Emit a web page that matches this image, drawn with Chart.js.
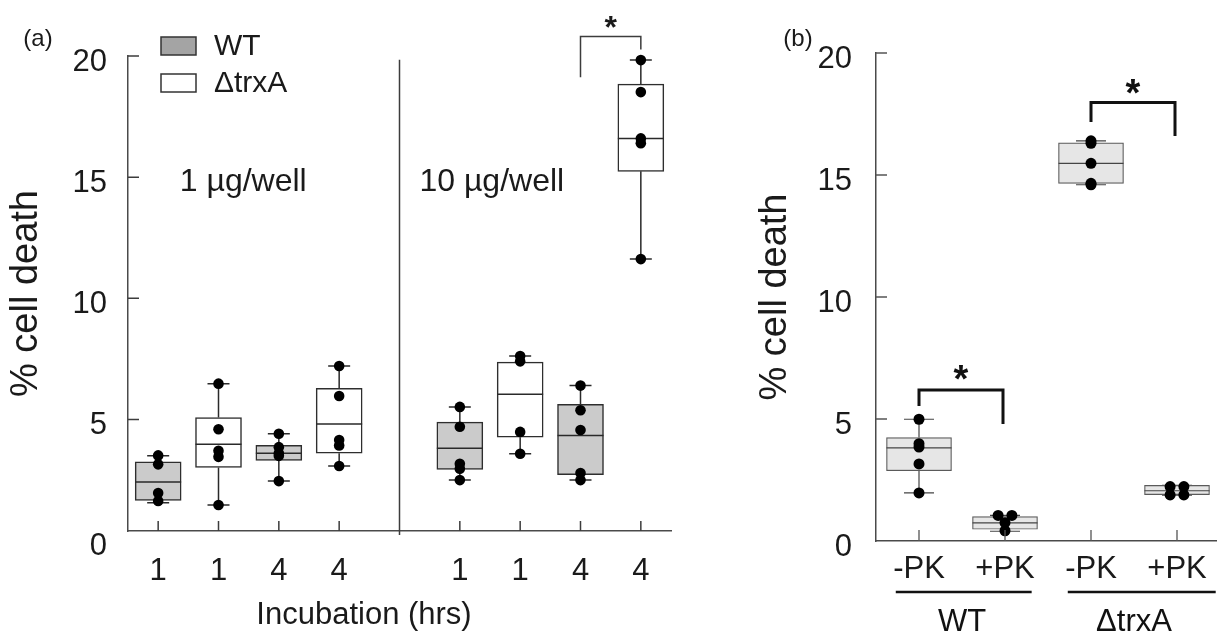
<!DOCTYPE html>
<html>
<head>
<meta charset="utf-8">
<script src="https://cdn.jsdelivr.net/npm/chart.js@4.4.1/dist/chart.umd.min.js"></script>
<style>
  html, body { margin: 0; padding: 0; background: #fff; overflow: hidden; }
  body { width: 1217px; height: 638px; position: relative; }
  .panel { position: absolute; top: 0; height: 638px; }
  #wrapA { left: 0; width: 700px; }
  #wrapB { left: 700px; width: 530px; }
</style>
</head>
<body>
<div class="panel" id="wrapA"><canvas id="chartA"></canvas></div>
<div class="panel" id="wrapB"><canvas id="chartB"></canvas></div>
<script>
// ---- panel (a): incubation time course, two doses ----
const doseNames = ['1 µg/well', '10 µg/well'];
const hoursA = ['1', '1', '4', '4', '1', '1', '4', '4'];
const strainA = ['WT', 'ΔtrxA', 'WT', 'ΔtrxA', 'WT', 'ΔtrxA', 'WT', 'ΔtrxA'];
const doseA = ['1 µg/well', '1 µg/well', '1 µg/well', '1 µg/well',
               '10 µg/well', '10 µg/well', '10 µg/well', '10 µg/well'];
const minA = [1.57, 1.47, 2.46, 3.08, 2.5, 3.59, 2.5, 11.62];
const q1A  = [1.66, 3.02, 3.31, 3.61, 2.94, 4.27, 2.72, 15.24];
const medA = [2.42, 3.98, 3.61, 4.82, 3.81, 6.04, 4.34, 16.6];
const q3A  = [3.25, 5.08, 3.93, 6.29, 4.89, 7.37, 5.63, 18.84];
const maxA = [3.5, 6.48, 4.41, 7.21, 5.52, 7.62, 6.4, 19.83];
const pointsA = [
  [3.52, 3.15, 1.97, 1.64],
  [6.48, 4.6, 3.71, 3.46, 1.47],
  [4.41, 3.86, 3.61, 3.5, 2.46],
  [7.21, 5.97, 4.15, 3.93, 3.08],
  [5.52, 4.7, 3.17, 2.97, 2.5],
  [7.62, 7.4, 4.49, 3.59],
  [6.4, 5.38, 4.57, 2.79, 2.5],
  [19.83, 18.51, 16.6, 16.4, 11.62]
];
const yTicks = [0, 5, 10, 15, 20];

// ---- panel (b): proteinase K treatment ----
const pkB = ['-PK', '+PK', '-PK', '+PK'];
const strainB = ['WT', 'WT', 'ΔtrxA', 'ΔtrxA'];
const minB = [1.97, 0.4, 14.6, 1.88];
const q1B  = [2.88, 0.48, 14.66, 1.9];
const medB = [3.82, 0.74, 15.48, 2.06];
const q3B  = [4.24, 1.0, 16.32, 2.28];
const maxB = [4.99, 1.05, 16.4, 2.28];
const pointsB = [
  [4.99, 3.99, 3.85, 3.16, 1.97],
  [1.05, 1.05, 0.75, 0.42],
  [16.4, 16.3, 15.48, 14.66, 14.6],
  [2.23, 2.23, 1.89, 1.89]
];

const FONT = '"Liberation Sans", Arial, Helvetica, sans-serif';
Chart.defaults.font.family = FONT;
Chart.defaults.color = '#1a1a1a';

// gap slot between the two doses
const slotA = doseA.map((d, i) => i + doseNames.indexOf(d));
const slotB = pkB.map((_, i) => i);

// identical values are spread sideways so they stay visible
function dots(points, slots, step) {
  const out = [];
  points.forEach((grp, g) => {
    grp.forEach((v, k) => {
      const same = grp.filter(p => p === v).length;
      const rank = grp.slice(0, k).filter(p => p === v).length;
      out.push({ x: slots[g] + (rank - (same - 1) / 2) * step, y: v });
    });
  });
  return out;
}

// whiskers, caps and median lines for a box dataset
function boxPlugin(st) {
  return {
    id: 'box' + st.name,
    beforeDatasetsDraw(chart) {
      const { ctx, scales: { x, y } } = chart;
      ctx.save();
      ctx.strokeStyle = st.color;
      ctx.lineWidth = st.width;
      ctx.beginPath();
      st.slots.forEach((s, i) => {
        const px = x.getPixelForValue(s);
        const yMax = y.getPixelForValue(st.max[i]), yMin = y.getPixelForValue(st.min[i]);
        ctx.moveTo(px, y.getPixelForValue(st.q3[i])); ctx.lineTo(px, yMax);
        ctx.moveTo(px, y.getPixelForValue(st.q1[i])); ctx.lineTo(px, yMin);
        ctx.moveTo(px - st.cap / 2, yMax); ctx.lineTo(px + st.cap / 2, yMax);
        ctx.moveTo(px - st.cap / 2, yMin); ctx.lineTo(px + st.cap / 2, yMin);
      });
      ctx.stroke();
      ctx.restore();
    },
    afterDatasetDraw(chart, args) {
      if (chart.data.datasets[args.index].type !== 'bar') return;
      const { ctx, scales: { y } } = chart;
      const bars = chart.getDatasetMeta(args.index).data;
      ctx.save();
      ctx.strokeStyle = st.color;
      ctx.lineWidth = st.width;
      ctx.beginPath();
      st.med.forEach((m, i) => {
        const b = bars[i];
        const py = y.getPixelForValue(m);
        ctx.moveTo(b.x - b.width / 2, py); ctx.lineTo(b.x + b.width / 2, py);
      });
      ctx.stroke();
      ctx.restore();
    }
  };
}

function star(ctx, txt, x, cy, size) {
  ctx.font = 'bold ' + size + 'px ' + FONT;
  ctx.textAlign = 'center';
  ctx.textBaseline = 'alphabetic';
  ctx.fillText(txt, x, cy + size * 0.58);
}

const decorA = {
  id: 'decorA',
  afterDraw(chart) {
    const { ctx, chartArea: ca, scales: { x, y } } = chart;
    ctx.save();
    ctx.strokeStyle = '#3c3c3c';
    ctx.lineWidth = 1.5;
    ctx.beginPath();
    yTicks.filter(v => v > 0).forEach(v => {
      const py = y.getPixelForValue(v);
      ctx.moveTo(ca.left, py); ctx.lineTo(ca.left + 11, py);
    });
    slotA.forEach(s => {
      const px = x.getPixelForValue(s);
      ctx.moveTo(px, ca.bottom); ctx.lineTo(px, ca.bottom - 10);
    });
    const sep = x.getPixelForValue((slotA[3] + slotA[4]) / 2);
    ctx.moveTo(sep, y.getPixelForValue(19.85)); ctx.lineTo(sep, ca.bottom + 4);
    // significance bracket, 10 µg/well 4 h
    const l = x.getPixelForValue(slotA[6]), r = x.getPixelForValue(slotA[7]);
    const top = y.getPixelForValue(20.8);
    ctx.moveTo(l, y.getPixelForValue(19.12)); ctx.lineTo(l, top);
    ctx.lineTo(r, top); ctx.lineTo(r, y.getPixelForValue(20.27));
    ctx.stroke();
    ctx.fillStyle = '#1a1a1a';
    star(ctx, '*', (l + r) / 2, y.getPixelForValue(21.5), 32);

    // legend
    ctx.lineWidth = 1.5;
    ctx.strokeStyle = '#333';
    ctx.fillStyle = '#a4a4a4';
    ctx.fillRect(161, 37, 35, 18); ctx.strokeRect(161, 37, 35, 18);
    ctx.fillStyle = '#fff';
    ctx.fillRect(161, 74, 35, 18); ctx.strokeRect(161, 74, 35, 18);
    ctx.fillStyle = '#1a1a1a';
    ctx.font = '30px ' + FONT;
    ctx.textAlign = 'left';
    ctx.textBaseline = 'middle';
    ctx.fillText('WT', 214, 47);
    ctx.fillText('ΔtrxA', 214, 84);

    // dose labels
    ctx.font = '32px ' + FONT;
    ctx.textAlign = 'center';
    ctx.fillText(doseNames[0], x.getPixelForValue(1.41), y.getPixelForValue(14.8));
    ctx.fillText(doseNames[1], x.getPixelForValue(5.53), y.getPixelForValue(14.8));

    // axis title and panel letter
    ctx.font = '31px ' + FONT;
    ctx.fillText('Incubation (hrs)', 364, 615);
    ctx.font = '24px ' + FONT;
    ctx.fillText('(a)', 38, 39);
    ctx.restore();
  }
};

const decorB = {
  id: 'decorB',
  afterDraw(chart) {
    const { ctx, chartArea: ca, scales: { x, y } } = chart;
    ctx.save();
    ctx.strokeStyle = '#555';
    ctx.lineWidth = 1.3;
    ctx.beginPath();
    yTicks.filter(v => v > 0).forEach(v => {
      const py = y.getPixelForValue(v);
      ctx.moveTo(ca.left, py); ctx.lineTo(ca.left + 11, py);
    });
    slotB.forEach(s => {
      const px = x.getPixelForValue(s);
      ctx.moveTo(px, ca.bottom); ctx.lineTo(px, ca.bottom - 11);
    });
    ctx.stroke();

    // significance brackets
    ctx.strokeStyle = '#111';
    ctx.fillStyle = '#111';
    ctx.lineWidth = 3;
    const brackets = [
      { l: 0, r: 1, lb: 5.53, top: 6.19, rb: 4.8, star: 7.0 },
      { l: 2, r: 3, lb: 17.17, top: 17.97, rb: 16.6, star: 18.75 }
    ];
    brackets.forEach(b => {
      const l = x.getPixelForValue(slotB[b.l]), r = x.getPixelForValue(slotB[b.r]) - 2;
      const t = y.getPixelForValue(b.top);
      ctx.beginPath();
      ctx.moveTo(l, y.getPixelForValue(b.lb)); ctx.lineTo(l, t);
      ctx.lineTo(r, t); ctx.lineTo(r, y.getPixelForValue(b.rb));
      ctx.stroke();
      star(ctx, '*', (l + r) / 2, y.getPixelForValue(b.star), 38);
    });

    // strain groups under the axis
    ctx.font = '31px ' + FONT;
    ctx.textAlign = 'center';
    ctx.textBaseline = 'middle';
    ctx.lineWidth = 2.5;
    ['WT', 'ΔtrxA'].forEach(g => {
      const idx = slotB.filter((_, i) => strainB[i] === g);
      const a = idx[0], z = idx[idx.length - 1];
      ctx.beginPath();
      ctx.moveTo(x.getPixelForValue(a - 0.27), ca.bottom + 51);
      ctx.lineTo(x.getPixelForValue(z + 0.45 - (g === 'WT' ? 0.14 : 0)), ca.bottom + 51);
      ctx.stroke();
      ctx.fillText(g, x.getPixelForValue((a + z) / 2), ca.bottom + 81);
    });
    ctx.font = '24px ' + FONT;
    ctx.fillStyle = '#1a1a1a';
    ctx.fillText('(b)', 98, 39);
    ctx.restore();
  }
};

function yAxis(min, width, pad, titlePad) {
  return {
    min: min, max: 20,
    grid: { display: false, drawTicks: false },
    border: { display: true, color: '#4a4a4a', width: 1.5 },
    afterBuildTicks: s => { s.ticks = yTicks.map(v => ({ value: v })); },
    ticks: { font: { size: 31 }, padding: pad, labelOffset: 6, color: '#1a1a1a' },
    title: { display: true, text: '% cell death', font: { size: 38 }, padding: { top: titlePad, bottom: 0 }, color: '#1a1a1a' },
    afterFit: s => { s.width = width; }
  };
}

function xAxis(slots, labels, pad, height) {
  return {
    type: 'linear', offset: false,
    min: -0.5, max: slots[slots.length - 1] + 0.5,
    grid: { display: false, drawTicks: false },
    border: { display: true, color: '#4a4a4a', width: 1.5 },
    afterBuildTicks: s => { s.ticks = slots.map(v => ({ value: v })); },
    ticks: { callback: (v, i) => labels[i], font: { size: 31 }, padding: pad, maxRotation: 0, autoSkip: false, color: '#1a1a1a' },
    afterFit: s => { s.height = height; }
  };
}

const fillA = { 'WT': '#cbcbcb', 'ΔtrxA': '#ffffff' };

new Chart(document.getElementById('chartA'), {
  type: 'bar',
  data: {
    datasets: [
      {
        type: 'scatter', data: dots(pointsA, slotA, 0.15),
        pointRadius: 5.3, pointHoverRadius: 5.3, backgroundColor: '#000', borderWidth: 0,
        order: 0, clip: false
      },
      {
        type: 'bar',
        data: slotA.map((s, i) => ({ x: s, y: [q1A[i], q3A[i]] })),
        backgroundColor: strainA.map(s => fillA[s]),
        borderColor: '#2e2e2e', borderWidth: 1.5, borderSkipped: false,
        barThickness: 46, order: 1, clip: false
      }
    ]
  },
  options: {
    responsive: true, maintainAspectRatio: false, animation: false,
    layout: { padding: { top: 56, right: 29, left: 0, bottom: 0 } },
    plugins: { legend: { display: false }, tooltip: { enabled: false } },
    scales: {
      x: xAxis(slotA, hoursA, 22, 107),
      y: yAxis(0.4, 128, 21, 4.2)
    }
  },
  plugins: [boxPlugin({ name: 'A', slots: slotA, min: minA, q1: q1A, med: medA, q3: q3A, max: maxA, cap: 22, color: '#2a2a2a', width: 1.5 }), decorA]
});

new Chart(document.getElementById('chartB'), {
  type: 'bar',
  data: {
    datasets: [
      {
        type: 'scatter', data: dots(pointsB, slotB, 0.16),
        pointRadius: 5.5, pointHoverRadius: 5.5, backgroundColor: '#000', borderWidth: 0,
        order: 0, clip: false
      },
      {
        type: 'bar',
        data: slotB.map((s, i) => ({ x: s, y: [q1B[i], q3B[i]] })),
        backgroundColor: '#e6e6e6',
        borderColor: '#5a5a5a', borderWidth: 1.2, borderSkipped: false,
        barThickness: 65, order: 1, clip: false
      }
    ]
  },
  options: {
    responsive: true, maintainAspectRatio: false, animation: false,
    layout: { padding: { top: 53, right: 10, left: 0, bottom: 0 } },
    plugins: { legend: { display: false }, tooltip: { enabled: false } },
    scales: {
      x: xAxis(slotB, pkB, 10, 97),
      y: yAxis(0, 176, 24, 53.2)
    }
  },
  plugins: [boxPlugin({ name: 'B', slots: slotB, min: minB, q1: q1B, med: medB, q3: q3B, max: maxB, cap: 30, color: '#444', width: 1.2 }), decorB]
});
</script>
</body>
</html>
